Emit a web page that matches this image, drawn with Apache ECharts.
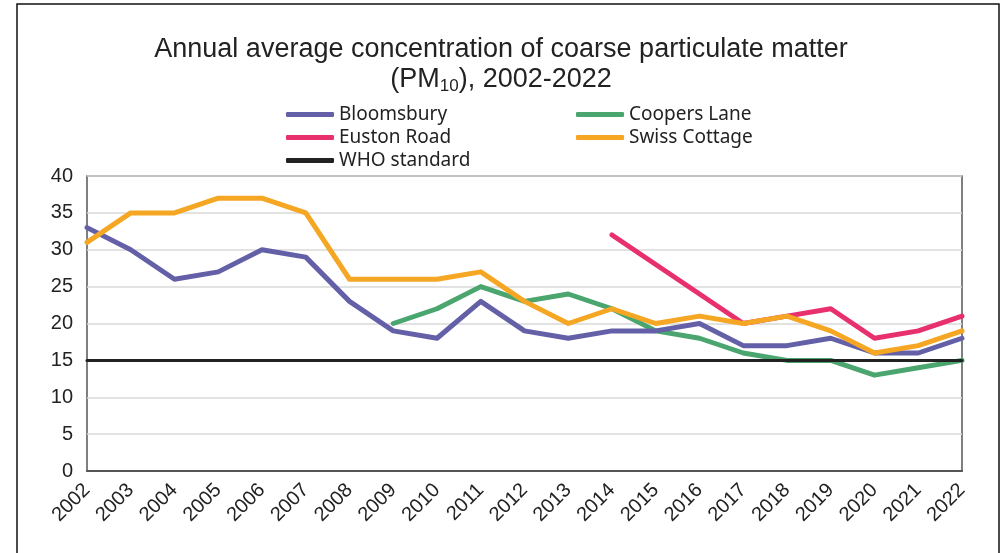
<!DOCTYPE html>
<html>
<head>
<meta charset="utf-8">
<script src="https://cdn.jsdelivr.net/npm/echarts@6/dist/echarts.min.js"></script>
<style>
html, body { margin: 0; padding: 0; background: #fff; }
#pm_chart { width: 1002px; height: 553px; }
</style>
</head>
<body>
<div id="pm_chart"></div>
<script>
var years = ['2002','2003','2004','2005','2006','2007','2008','2009','2010','2011','2012',
             '2013','2014','2015','2016','2017','2018','2019','2020','2021','2022'];
var bloomsbury   = [33, 30, 26, 27, 30, 29, 23, 19, 18, 23, 19, 18, 19, 19, 20, 17, 17, 18, 16, 16, 18];
var coopersLane  = ['-', '-', '-', '-', '-', '-', '-', 20, 22, 25, 23, 24, 22, 19, 18, 16, 15, 15, 13, 14, 15];
var eustonRoad   = ['-', '-', '-', '-', '-', '-', '-', '-', '-', '-', '-', '-', 32, 28, 24, 20, 21, 22, 18, 19, 21];
var swissCottage = [31, 35, 35, 37, 37, 35, 26, 26, 26, 27, 23, 20, 22, 20, 21, 20, 21, 19, 16, 17, 19];
var whoStandard  = [15, 15, 15, 15, 15, 15, 15, 15, 15, 15, 15, 15, 15, 15, 15, 15, 15, 15, 15, 15, 15];

window.onload = function(){
    var myChart = echarts.init(document.getElementById('pm_chart'));
    var font = 'Liberation Sans';
    // 一条线的公共样式
    function line(name, data, color, width, z){
        return {
            name: name,
            type: 'line',
            data: data,
            symbol: 'none',
            z: z,
            color: color,
            lineStyle: { width: width, color: color, cap: 'round', join: 'round' },
            emphasis: { disabled: true }
        };
    }
    var legendText = { fontFamily: 'Noto Sans', fontSize: 19, color: '#222' };
    var option = {
        animation: false,
        title: {
            text: 'Annual average concentration of coarse particulate matter\n(PM{sub|10}), 2002-2022',
            left: 'center',
            top: 30,
            textStyle: {
                fontFamily: 'Liberation Sans',
                fontWeight: 'normal',
                fontSize: 27,
                lineHeight: 30,
                color: '#222',
                rich: {
                    sub: { fontFamily: 'Liberation Sans', fontSize: 17, color: '#222', verticalAlign: 'bottom', padding: [10, 0, 0, 0] }
                }
            }
        },
        graphic: [{
            type: 'rect',
            shape: { x: 17, y: 4, width: 982, height: 560 },
            style: { fill: 'none', stroke: '#111', lineWidth: 1.5 },
            silent: true
        }],
        legend: [{
            orient: 'vertical',
            left: 281,
            top: 100,
            itemGap: 4,
            itemWidth: 48,
            itemHeight: 5,
            icon: 'roundRect',
            textStyle: legendText,
            data: ['Bloomsbury', 'Euston Road', 'WHO standard']
        }, {
            orient: 'vertical',
            left: 571,
            top: 100,
            itemGap: 4,
            itemWidth: 48,
            itemHeight: 5,
            icon: 'roundRect',
            textStyle: legendText,
            data: ['Coopers Lane', 'Swiss Cottage']
        }],
        grid: {
            left: 87, right: 40, top: 176, bottom: 82,
            show: true,
            borderColor: '#555',
            borderWidth: 1.5,
            containLabel: false
        },
        xAxis: {
            type: 'category',
            boundaryGap: false,
            data: years,
            axisLine: { lineStyle: { color: '#555', width: 2 } },
            axisTick: { show: false },
            axisLabel: {
                interval: 0,
                rotate: 45,
                margin: 16,
                fontFamily: font,
                fontSize: 20,
                color: '#222'
            },
            splitLine: { show: false }
        },
        yAxis: {
            type: 'value',
            min: 0,
            max: 40,
            interval: 5,
            axisLine: { show: false },
            axisTick: { show: false },
            axisLabel: { fontFamily: font, fontSize: 20, color: '#222', margin: 14 },
            splitLine: { lineStyle: { color: '#d9d9d9', width: 1.5 } }
        },
        series: [
            line('WHO standard', whoStandard, '#222222', 3, 5),
            line('Coopers Lane', coopersLane, '#4aa56f', 5, 2),
            line('Bloomsbury', bloomsbury, '#6460a8', 5, 3),
            line('Euston Road', eustonRoad, '#e8306e', 5, 1),
            line('Swiss Cottage', swissCottage, '#f5a623', 5, 4)
        ]
    };
    myChart.setOption(option);
};
</script>
</body>
</html>
